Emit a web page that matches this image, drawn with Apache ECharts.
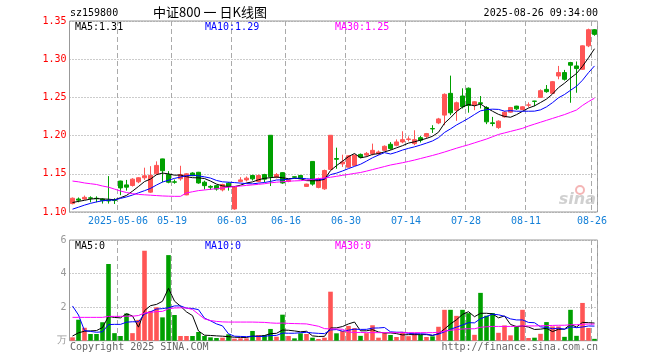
<!DOCTYPE html>
<html><head><meta charset="utf-8">
<script src="https://cdn.jsdelivr.net/npm/echarts@6/dist/echarts.min.js"></script>
<style>html,body{margin:0;padding:0;background:#fff}#c{width:660px;height:360px}</style>
</head><body><div id="c"></div>
<script>
const dates = ['2025-04-21','2025-04-22','2025-04-23','2025-04-24','2025-04-25','2025-04-28','2025-04-29','2025-04-30',
'2025-05-06','2025-05-07','2025-05-08','2025-05-09','2025-05-12','2025-05-13','2025-05-14','2025-05-15','2025-05-16','2025-05-19','2025-05-20','2025-05-21','2025-05-22','2025-05-23','2025-05-26','2025-05-27','2025-05-28','2025-05-29','2025-05-30',
'2025-06-03','2025-06-04','2025-06-05','2025-06-06','2025-06-09','2025-06-10','2025-06-11','2025-06-12','2025-06-13','2025-06-16','2025-06-17','2025-06-18','2025-06-19','2025-06-20','2025-06-23','2025-06-24','2025-06-25','2025-06-26','2025-06-27','2025-06-30',
'2025-07-01','2025-07-02','2025-07-03','2025-07-04','2025-07-07','2025-07-08','2025-07-09','2025-07-10','2025-07-11','2025-07-14','2025-07-15','2025-07-16','2025-07-17','2025-07-18','2025-07-21','2025-07-22','2025-07-23','2025-07-24','2025-07-25','2025-07-28','2025-07-29','2025-07-30','2025-07-31',
'2025-08-01','2025-08-04','2025-08-05','2025-08-06','2025-08-07','2025-08-08','2025-08-11','2025-08-12','2025-08-13','2025-08-14','2025-08-15','2025-08-18','2025-08-19','2025-08-20','2025-08-21','2025-08-22','2025-08-25','2025-08-26'];

const opens = [1.111,1.117,1.117,1.1185,1.118,1.117,1.1155,1.1155,1.1405,1.1355,1.1347,1.1395,1.1448,1.126,1.150,1.1695,1.149,1.1395,1.1435,1.1224,1.151,1.152,1.139,1.1335,1.1345,1.129,1.1377,
1.104,1.140,1.142,1.1478,1.140,1.149,1.2004,1.1456,1.1515,1.140,1.1462,1.1478,1.1335,1.1662,1.1322,1.1303,1.1557,1.170,1.163,1.1587,
1.161,1.1754,1.1745,1.1763,1.1765,1.1807,1.1886,1.1873,1.1917,1.195,1.1895,1.1973,1.199,1.2092,1.2166,1.2268,1.2553,1.2333,1.2518,1.262,1.2399,1.243,1.2368,
1.2167,1.2105,1.2246,1.2307,1.2386,1.2342,1.2398,1.2452,1.250,1.2605,1.2553,1.278,1.2825,1.2956,1.2912,1.2868,1.3175,1.3386];
const closes = [1.118,1.1155,1.1192,1.118,1.1175,1.1149,1.1145,1.115,1.1315,1.1325,1.143,1.1448,1.1474,1.148,1.161,1.154,1.139,1.139,1.149,1.150,1.1475,1.138,1.1345,1.1325,1.130,1.136,1.134,
1.1335,1.142,1.1443,1.1434,1.1478,1.143,1.146,1.149,1.138,1.142,1.1455,1.1434,1.1365,1.1365,1.1435,1.1543,1.2004,1.169,1.1655,1.1735,
1.1745,1.1718,1.1767,1.1807,1.1785,1.186,1.183,1.1917,1.1947,1.1956,1.1947,1.194,1.2026,1.2088,1.2218,1.2540,1.2298,1.243,1.2378,1.2395,1.2443,1.242,1.218,
1.2158,1.2189,1.2307,1.2368,1.235,1.2377,1.2402,1.2448,1.2588,1.2575,1.2706,1.2825,1.2737,1.2921,1.2877,1.3175,1.3386,1.3325];
const lows = [1.110,1.1127,1.116,1.1127,1.1127,1.111,1.111,1.1105,1.122,1.128,1.1333,1.1377,1.142,1.125,1.1487,1.139,1.1376,1.137,1.141,1.122,1.147,1.137,1.1295,1.129,1.128,1.127,1.128,
1.103,1.139,1.140,1.1412,1.139,1.139,1.134,1.144,1.137,1.139,1.1448,1.143,1.133,1.1345,1.131,1.129,1.1557,1.1566,1.159,1.158,
1.160,1.1705,1.1725,1.174,1.1745,1.180,1.1815,1.186,1.190,1.1925,1.1875,1.191,1.196,1.2035,1.215,1.2136,1.2268,1.2193,1.2355,1.230,1.2333,1.2355,1.215,
1.2123,1.2088,1.2235,1.230,1.2335,1.2335,1.237,1.2385,1.2495,1.2561,1.2553,1.2737,1.272,1.243,1.2561,1.286,1.3158,1.3307];
const highs = [1.119,1.119,1.1215,1.1205,1.1205,1.118,1.147,1.118,1.141,1.142,1.1443,1.1456,1.158,1.160,1.1663,1.1698,1.1535,1.1425,1.1605,1.151,1.152,1.1525,1.141,1.135,1.1355,1.137,1.139,
1.134,1.1456,1.1465,1.1487,1.149,1.150,1.2004,1.151,1.152,1.143,1.1465,1.148,1.137,1.1662,1.145,1.1555,1.2004,1.1842,1.175,1.1745,
1.175,1.1765,1.1785,1.1895,1.1805,1.1872,1.1915,1.195,1.2057,1.199,1.207,1.1995,1.2035,1.2136,1.2232,1.2553,1.2785,1.2445,1.2619,1.263,1.2452,1.2518,1.2385,
1.2245,1.220,1.232,1.2375,1.239,1.2385,1.2435,1.2455,1.2605,1.2662,1.2715,1.2912,1.286,1.2965,1.297,1.318,1.340,1.3395];
const volumes = [0.20,1.25,0.77,0.40,0.40,1.10,4.57,0.45,0.28,1.62,0.45,1.24,5.36,1.77,1.99,1.39,5.10,1.53,0.28,0.28,0.28,0.52,0.28,0.20,0.16,0.18,0.38,
0.12,0.14,0.14,0.58,0.34,0.34,0.70,0.24,1.55,0.28,0.14,0.44,0.40,0.18,0.10,0.18,2.92,0.44,0.58,0.88,
0.75,0.29,0.45,0.92,0.18,0.45,0.34,0.22,0.53,0.27,0.45,0.34,0.22,0.26,0.83,1.84,1.84,1.48,1.84,1.64,0.35,2.85,1.49,
1.65,0.47,0.91,0.32,0.85,1.84,0.16,0.18,0.41,1.11,0.85,0.85,0.23,1.84,0.29,2.25,0.76,0.11];
// MA30 lines
const priceMA30 = [1.1405,1.1395,1.138,1.137,1.136,1.134,1.1325,1.130,1.1275,1.1255,1.124,1.123,1.1225,1.122,1.1215,1.121,1.1207,1.1205,1.1205,1.125,1.1265,1.128,1.1288,1.1297,1.1305,1.1315,1.1325,
1.1333,1.134,1.1348,1.1355,1.1362,1.137,1.1382,1.139,1.1397,1.1403,1.1407,1.141,1.1418,1.1428,1.1437,1.1446,1.1455,1.1467,1.148,1.1492,
1.1505,1.1517,1.1535,1.1555,1.1575,1.1595,1.1615,1.163,1.1645,1.1662,1.168,1.170,1.172,1.174,1.1762,1.1785,1.181,1.1835,1.1858,1.188,1.1905,1.193,1.1955,
1.1985,1.2015,1.2035,1.2055,1.2075,1.2095,1.2125,1.215,1.2175,1.220,1.2225,1.225,1.2275,1.2305,1.2335,1.2395,1.2445,1.249];
const volMA30 = [1.39,1.39,1.39,1.39,1.39,1.39,1.45,1.45,1.45,1.46,1.46,1.50,1.65,1.69,1.73,1.75,1.90,1.95,1.96,1.95,1.86,1.58,1.30,1.20,1.15,1.12,1.11,
1.11,1.11,1.11,1.11,1.10,1.09,1.06,1.04,1.05,1.03,1.02,1.01,1.00,0.93,0.86,0.72,0.70,0.70,0.68,0.52,
0.49,0.49,0.48,0.48,0.48,0.48,0.48,0.48,0.48,0.48,0.48,0.48,0.48,0.48,0.50,0.56,0.62,0.66,0.70,0.71,0.71,0.80,0.83,
0.85,0.85,0.85,0.85,0.86,0.88,0.88,0.88,0.89,0.90,0.91,0.92,0.92,0.95,0.95,0.98,0.99,0.99];
// closes / volumes of the days just before the window (estimated from MA lines)
const prevCloses = [1.090,1.092,1.095,1.098,1.100,1.108,1.112,1.110,1.114];
const prevVolumes = [6.65,10.05,0.9,0.9,0.8,0.3,0.3,0.3,0.3];
const tickDates = ['2025-05-06','2025-05-19','2025-06-03','2025-06-16','2025-06-30','2025-07-14','2025-07-28','2025-08-11','2025-08-26'];
const priceTicks = [1.10,1.15,1.20,1.25,1.30,1.35];
const volTicks = [0,2,4,6];

function movingAvg(arr, prev, n) {
  const all = prev.concat(arr), off = prev.length;
  return arr.map((_, i) => { let s = 0; for (let k = 0; k < n; k++) s += all[off + i - k]; return +(s / n).toFixed(4); });
}
const pMA5 = movingAvg(closes, prevCloses, 5);
const pMA10 = movingAvg(closes, prevCloses, 10);
const vMA5 = movingAvg(volumes, prevVolumes, 5);
const vMA10 = movingAvg(volumes, prevVolumes, 10);

const UP = '#ff5555', DOWN = '#00a000';
const tickIdx = tickDates.map(d => dates.indexOf(d));
const isTick = (i) => tickIdx.indexOf(i) >= 0;
const kData = dates.map((d, i) => [opens[i], closes[i], lows[i], highs[i]]);
const volData = volumes.map((v, i) => ({ value: v, itemStyle: { color: closes[i] >= opens[i] ? UP : DOWN } }));
const MONO = 'DejaVu Sans Mono';
const last = a => a[a.length - 1];

const chart = echarts.init(document.getElementById('c'), null, { renderer: 'canvas' });
const dashV = { show: true, interval: (i) => isTick(i), lineStyle: { color: '#aaa', type: [5, 3], width: 1 } };
const dotH = { show: true, lineStyle: { color: '#999', type: [1, 2], width: 1 } };
const lineS = (name, data, color, xi, yi) => ({ name, type: 'line', data, xAxisIndex: xi, yAxisIndex: yi, symbol: 'none', smooth: false,
  lineStyle: { color, width: 1 }, itemStyle: { color }, z: 5, silent: true });
chart.setOption({
  animation: false,
  backgroundColor: '#fff',
  grid: [
    { left: 69.5, top: 21, width: 528, height: 191, show: true, borderColor: '#999', borderWidth: 1, backgroundColor: 'transparent' },
    { left: 69.5, top: 240, width: 528, height: 100.7, show: true, borderColor: '#999', borderWidth: 1, backgroundColor: 'transparent' }
  ],
  xAxis: [
    { type: 'category', gridIndex: 0, data: dates, boundaryGap: true,
      axisLine: { show: false }, axisTick: { show: false },
      axisLabel: { interval: (i) => isTick(i), color: '#1580d8', fontFamily: MONO, fontSize: 10, margin: 4, padding: [0, 5, 0, 0],
        formatter: (v, i) => (i === tickIdx[0] ? v : v.slice(5)) },
      splitLine: dashV },
    { type: 'category', gridIndex: 1, data: dates, boundaryGap: true,
      axisLine: { show: false }, axisTick: { show: false }, axisLabel: { show: false },
      splitLine: dashV }
  ],
  yAxis: [
    { type: 'value', gridIndex: 0, min: priceTicks[0], max: last(priceTicks), interval: 0.05, scale: true,
      axisLine: { show: false }, axisTick: { show: false },
      axisLabel: { color: '#ff0000', fontFamily: MONO, fontSize: 10, margin: 3, formatter: v => v.toFixed(2) },
      splitLine: dotH },
    { type: 'value', gridIndex: 1, min: volTicks[0], max: last(volTicks), interval: 2,
      axisLine: { show: false }, axisTick: { show: false },
      axisLabel: { color: '#999', fontFamily: MONO, fontSize: 10, margin: 3, formatter: v => (v === 0 ? '万' : String(v)) },
      splitLine: dotH }
  ],
  series: [
    { name: 'K', type: 'candlestick', data: kData, xAxisIndex: 0, yAxisIndex: 0, barWidth: 5,
      itemStyle: { color: UP, color0: DOWN, borderColor: UP, borderColor0: DOWN, borderWidth: 1 }, z: 3 },
    lineS('MA5', pMA5, '#000000', 0, 0),
    lineS('MA10', pMA10, '#0000ff', 0, 0),
    lineS('MA30', priceMA30, '#ff00ff', 0, 0),
    { name: 'VOL', type: 'bar', data: volData, xAxisIndex: 1, yAxisIndex: 1, barWidth: 4.6, z: 3 },
    lineS('VMA5', vMA5, '#000000', 1, 1),
    lineS('VMA10', vMA10, '#0000ff', 1, 1),
    lineS('VMA30', volMA30, '#ff00ff', 1, 1)
  ],
  graphic: [
    { type: 'text', x: 70, y: 13, style: { text: 'sz159800', font: '10px ' + MONO, fill: '#000', align: 'left', verticalAlign: 'middle' } },
    { type: 'text', x: 210, y: 12, style: { text: '中证800 一 日K线图', font: '13px "Noto Sans CJK SC"', fill: '#000', align: 'center', verticalAlign: 'middle' } },
    { type: 'text', x: 598, y: 13, style: { text: '2025-08-26 09:34:00', font: '10px ' + MONO, fill: '#000', align: 'right', verticalAlign: 'middle' } },
    { type: 'text', x: 75, y: 27, z: 10, style: { text: 'MA5:' + last(pMA5).toFixed(2), font: '10px ' + MONO, fill: '#000', align: 'left', verticalAlign: 'middle' } },
    { type: 'text', x: 205, y: 27, z: 10, style: { text: 'MA10:' + last(pMA10).toFixed(2), font: '10px ' + MONO, fill: '#0000ff', align: 'left', verticalAlign: 'middle' } },
    { type: 'text', x: 335, y: 27, z: 10, style: { text: 'MA30:' + last(priceMA30).toFixed(2), font: '10px ' + MONO, fill: '#ff00ff', align: 'left', verticalAlign: 'middle' } },
    { type: 'text', x: 75, y: 246, z: 10, style: { text: 'MA5:0', font: '10px ' + MONO, fill: '#000', align: 'left', verticalAlign: 'middle' } },
    { type: 'text', x: 205, y: 246, z: 10, style: { text: 'MA10:0', font: '10px ' + MONO, fill: '#0000ff', align: 'left', verticalAlign: 'middle' } },
    { type: 'text', x: 335, y: 246, z: 10, style: { text: 'MA30:0', font: '10px ' + MONO, fill: '#ff00ff', align: 'left', verticalAlign: 'middle' } },
    { type: 'text', x: 70, y: 347, style: { text: 'Copyright 2025 SINA.COM', font: '10px ' + MONO, fill: '#666', align: 'left', verticalAlign: 'middle' } },
    { type: 'text', x: 598, y: 347, style: { text: 'http://finance.sina.com.cn', font: '10px ' + MONO, fill: '#666', align: 'right', verticalAlign: 'middle' } },
    { type: 'circle', shape: { cx: 580, cy: 190, r: 4 }, style: { fill: 'none', stroke: 'rgba(235,120,120,0.55)', lineWidth: 2 }, z: 1 },
    { type: 'text', x: 596, y: 200, z: 1, style: { text: 'sina', font: 'italic bold 16px "DejaVu Sans"', fill: 'rgba(170,170,170,0.55)', align: 'right', verticalAlign: 'middle' } }
  ]
});
</script></body></html>
